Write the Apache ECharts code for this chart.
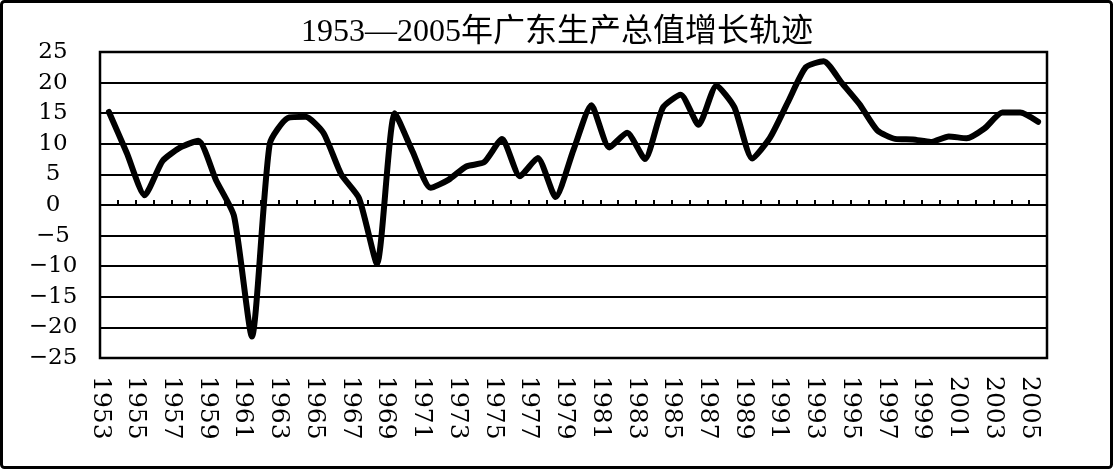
<!DOCTYPE html>
<html>
<head>
<meta charset="utf-8">
<script src="https://cdn.jsdelivr.net/npm/echarts@6/dist/echarts.min.js"></script>
<style>
  html, body { margin: 0; padding: 0; background: #fff; }
  #chart { width: 1114px; height: 470px; }
</style>
</head>
<body>
<div id="chart"></div>
<script>
const years = []
for (let y = 1953; y <= 2005; y++) years.push(String(y))

// GDP growth, %
const growth = [
  15.2, 8.5, 1.6, 7.2, 9.4, 10.5, 4.0, -1.8, -21.5, 10.0,
  14.2, 14.4, 11.8, 5.0, 1.1, -9.6, 15.0, 8.7, 2.8, 4.1,
  6.3, 7.0, 10.8, 4.7, 7.7, 1.3, 9.0, 16.3, 9.4, 11.8,
  7.5, 15.9, 18.0, 13.1, 19.5, 16.0, 7.6, 11.0, 16.8, 22.5,
  23.5, 20.0, 16.5, 12.2, 10.8, 10.7, 10.3, 11.2, 10.9, 12.5,
  15.1, 15.1, 13.6
]

// label axis sits on category boundaries, one more slot than years
const tickLabels = years.concat([''])

const labelFont = 'DejaVu Serif'

const chart = echarts.init(document.getElementById('chart'))

chart.setOption({
  backgroundColor: '#fff',
  animation: false,
  title: {
    text: '1953—2005年广东生产总值增长轨迹',
    left: 'center',
    top: 12,
    textStyle: {
      fontFamily: 'Liberation Serif, Noto Sans CJK SC',
      fontSize: 32,
      fontWeight: 'normal',
      color: '#000'
    }
  },
  graphic: [
    {
      type: 'rect',
      shape: { x: 1.5, y: 1.5, width: 1110, height: 466, r: 3 },
      style: { fill: 'none', stroke: '#000', lineWidth: 3 }
    }
  ],
  grid: {
    left: 100,
    right: 67,
    top: 52,
    bottom: 112,
    show: true,
    borderColor: '#000',
    borderWidth: 2.5
  },
  xAxis: [
    {
      type: 'category',
      data: years,
      boundaryGap: true,
      axisLine: { show: true, onZero: true, lineStyle: { color: '#000', width: 2 } },
      axisTick: { show: true, inside: true, length: 5, interval: 0, lineStyle: { color: '#000', width: 2 } },
      axisLabel: { show: false },
      splitLine: { show: false }
    },
    {
      type: 'category',
      data: tickLabels,
      boundaryGap: false,
      position: 'bottom',
      axisLine: { show: false, onZero: false },
      axisTick: { show: false },
      splitLine: { show: false },
      axisLabel: {
        interval: 1,
        rotate: -90,
        margin: 18,
        fontFamily: labelFont,
        fontSize: 25,
        color: '#000'
      }
    }
  ],
  yAxis: {
    type: 'value',
    min: -25,
    max: 25,
    interval: 5,
    axisLine: { show: false },
    axisTick: { show: false },
    splitLine: { show: true, lineStyle: { color: '#000', width: 2 } },
    axisLabel: {
      margin: 47,
      align: 'center',
      fontFamily: labelFont,
      fontSize: 23,
      color: '#000',
      formatter: (v) => String(v).replace('-', '\u2212')
    }
  },
  series: [
    {
      type: 'line',
      data: growth,
      xAxisIndex: 0,
      smooth: 0.2,
      showSymbol: false,
      lineStyle: { color: '#000', width: 6, cap: 'round', join: 'round' }
    }
  ]
})
</script>
</body>
</html>
